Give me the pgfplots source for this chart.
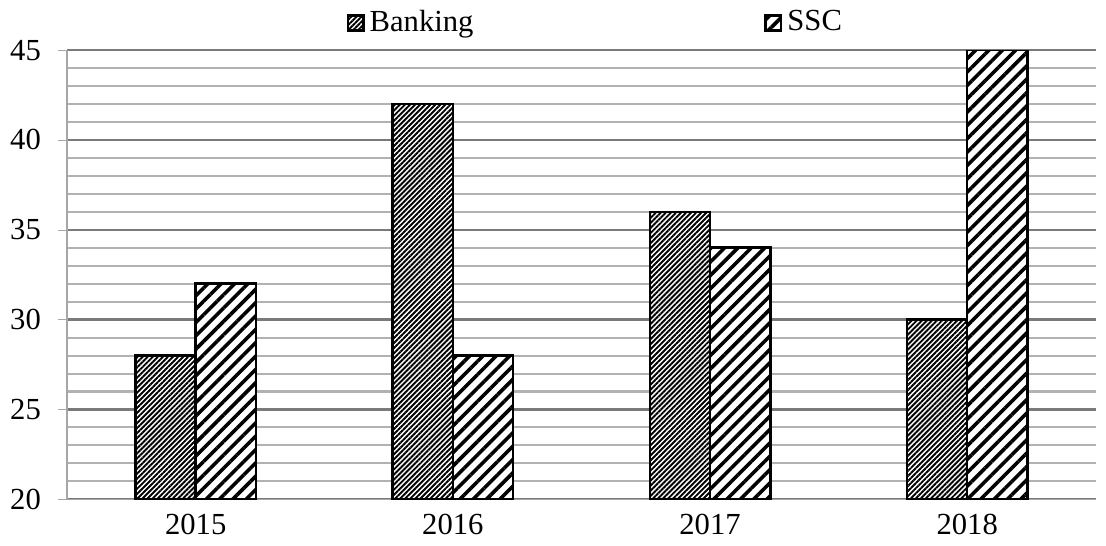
\documentclass[border=0pt]{standalone}
\usepackage{pgfplots}
\pgfplotsset{compat=1.18}
\usetikzlibrary{patterns.meta}
\usepackage{fontspec}
\setmainfont{Liberation Serif}

\begin{document}
\fontsize{12}{14}\selectfont
\begin{tikzpicture}
\begin{axis}[
  scale only axis,
  width=403pt,
  height=176pt,
  xmin=-0.5, xmax=3.5,
  ymin=20, ymax=45,
  ytick={20,25,...,45},
  minor y tick num=4,
  xtick={0,1,2,3},
  xticklabels={2015,2016,2017,2018},
  extra x ticks={-0.5,0.5,1.5,2.5,3.5},
  extra x tick labels={},
  extra x tick style={grid=none, major tick length=3.2pt, tick style={draw=gray!70}},
  xtick style={draw=none},
  tick align=outside,
  major tick length=3.6pt,
  minor tick length=0pt,
  ytick style={draw=gray!70},
  yticklabel style={xshift=-2.5pt},
  xticklabel style={yshift=2pt},
  axis x line*=bottom,
  axis y line*=left,
  axis line style={draw=gray!70, line width=0.5pt},
  ymajorgrids, yminorgrids,
  major grid style={draw=black!52, line width=0.9pt},
  minor grid style={draw=black!30, line width=0.8pt},
  ybar=0pt,
  bar width=23.6pt,
  /pgf/number format/assume math mode=true,
  ticklabel style={font=\fontsize{12}{14}\selectfont},
  legend style={at={(0.515,1.0)}, anchor=south, yshift=1.3pt, draw=none, fill=none,
    legend columns=2, font=\fontsize{12}{14}\selectfont,
    /tikz/every even column/.append style={column sep=112pt}},
  legend image code/.code={\draw[#1] (0pt,-3pt) rectangle (6pt,3pt);},
]
\addplot[draw=black, line width=1pt, fill=white,
  postaction={pattern={Lines[angle=45,distance=1.4pt,line width=0.75pt]}}]
  coordinates {(0,28) (1,42) (2,36) (3,30)};
\addplot[draw=black, line width=1pt, fill=white,
  postaction={pattern={Lines[angle=45,distance=3.7pt,line width=1.4pt]}}]
  coordinates {(0,32) (1,28) (2,34) (3,45)};
\legend{Banking, SSC}
\end{axis}
\end{tikzpicture}
\end{document}
